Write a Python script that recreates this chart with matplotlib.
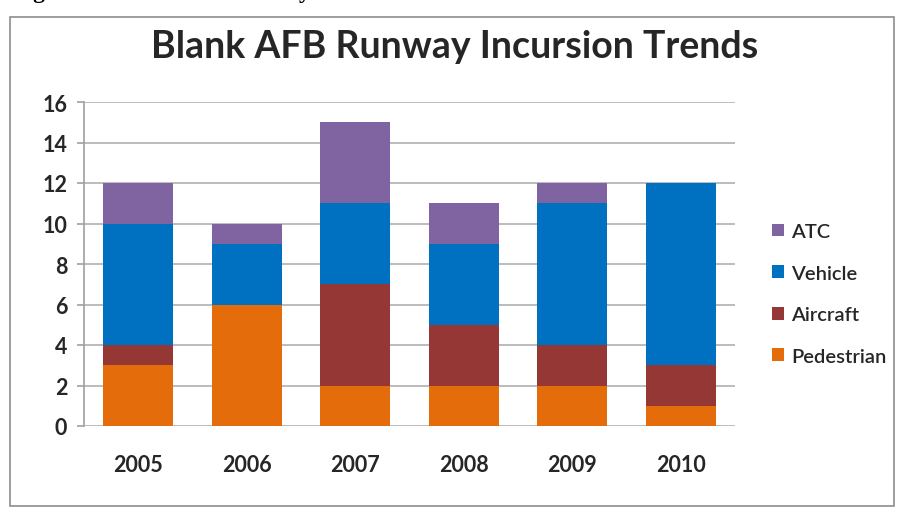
import numpy as np
import matplotlib.pyplot as plt
from matplotlib.patches import Rectangle

years = ["2005", "2006", "2007", "2008", "2009", "2010"]
pedestrian = [3, 6, 2, 2, 2, 1]
aircraft = [1, 0, 5, 3, 2, 2]
vehicle = [6, 3, 4, 4, 7, 9]
atc = [2, 1, 4, 2, 1, 0]

series = [("Pedestrian", pedestrian, "#E46C0A"),
          ("Aircraft", aircraft, "#953735"),
          ("Vehicle", vehicle, "#0070C0"),
          ("ATC", atc, "#8064A2")]

plt.rcParams['font.family'] = ['Lato', 'DejaVu Sans']

fig = plt.figure(figsize=(8.99, 5.10), dpi=100)

# caption line of the page above the chart, cut off by the crop
fig.text(12 / 899, 1.0 + 2 / 510, "Figure 4. Blank AFB Runway Incursion Trends",
         family=['Liberation Serif'], fontweight='bold', fontsize=17,
         ha='left', va='baseline', color='black')

# outer chart frame
fig.patches.append(Rectangle((10 / 899, 3 / 510), 884 / 899, 489 / 510,
                             transform=fig.transFigure, fill=False,
                             edgecolor='#8c8c8c', linewidth=1.2))

ax = fig.add_axes([84 / 899, 1 - 427 / 510, 651 / 899, 324 / 510])

x = np.arange(len(years))
bottom = np.zeros(len(years))
handles = {}
for name, vals, col in series:
    h = ax.bar(x, vals, 0.645, bottom=bottom, color=col, label=name, zorder=3)
    handles[name] = h
    bottom += np.array(vals)

ax.set_xlim(-0.5, len(years) - 0.5)
ax.set_ylim(0, 16)
ax.set_yticks(range(0, 17, 2))
ax.set_xticks(x)
ax.set_xticklabels(years)
ax.grid(axis='y', color='#b0b0b0', linewidth=1.2, zorder=0)
for s in ['top', 'right', 'bottom']:
    ax.spines[s].set_visible(False)
ax.spines['left'].set_color('#a0a0a0')
ax.spines['left'].set_linewidth(1.2)
ax.tick_params(axis='y', length=5, color='#a0a0a0', width=1.2, pad=7,
               labelsize=15.5, labelcolor='#262626')
ax.tick_params(axis='x', length=0, pad=20, labelsize=15.5, labelcolor='#262626')
for lab in ax.get_yticklabels() + ax.get_xticklabels():
    lab.set_fontweight('bold')

fig.text(455 / 899, 1 - 47 / 510, "Blank AFB Runway Incursion Trends",
         ha='center', va='center', fontsize=27, fontweight='bold', color='#262626')

order = ["ATC", "Vehicle", "Aircraft", "Pedestrian"]
leg = fig.legend([handles[n] for n in order], order,
                 loc='upper left', bbox_to_anchor=(756 / 899, 1 - 208 / 510),
                 frameon=False, fontsize=14.5, handlelength=0.6, handleheight=0.6,
                 handletextpad=0.35, labelspacing=1.22, labelcolor='#262626',
                 borderpad=0.3)
for t in leg.get_texts():
    t.set_fontweight('semibold')

fig.savefig("out.png", dpi=100)
